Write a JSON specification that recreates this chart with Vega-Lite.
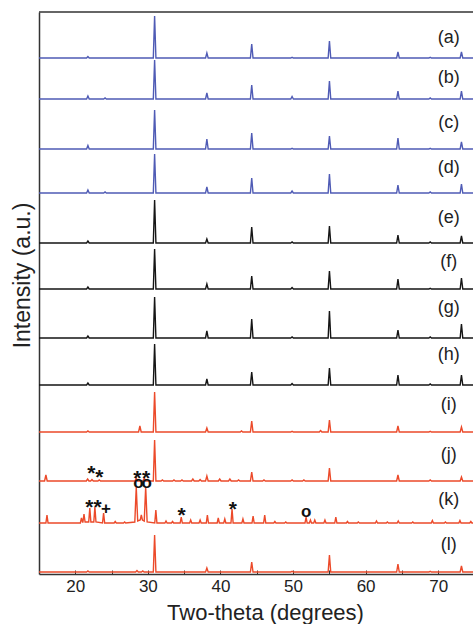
{
"$schema": "https://vega.github.io/schema/vega-lite/v6.json",
"width": 434, "height": 562,
"autosize": {"type": "none"},
"padding": {"left": 39, "top": 12, "right": 0, "bottom": 50},
"background": "white",
"config": {"view": {"stroke": null}, "font": "Liberation Sans"},
"datasets": {
"pts": [
{"s":"a","x":15,"y":516},{"s":"a","x":21.56,"y":516},{"s":"a","x":21.74,"y":517.5},{"s":"a","x":21.92,"y":516},{"s":"a","x":30.75,"y":516},{"s":"a","x":30.93,"y":558},{"s":"a","x":31.11,"y":516},{"s":"a","x":37.95,"y":516},{"s":"a","x":38.13,"y":521},{"s":"a","x":38.31,"y":516},{"s":"a","x":44.13,"y":516},{"s":"a","x":44.31,"y":530},{"s":"a","x":44.49,"y":516},{"s":"a","x":49.69,"y":516},{"s":"a","x":49.87,"y":516.7},{"s":"a","x":50.05,"y":516},{"s":"a","x":54.84,"y":516},{"s":"a","x":55.02,"y":533},{"s":"a","x":55.2,"y":516},{"s":"a","x":64.28,"y":516},{"s":"a","x":64.46,"y":522},{"s":"a","x":64.64,"y":516},{"s":"a","x":68.72,"y":516},{"s":"a","x":68.9,"y":516.7},{"s":"a","x":69.08,"y":516},{"s":"a","x":73.03,"y":516},{"s":"a","x":73.21,"y":522},{"s":"a","x":73.39,"y":516},{"s":"a","x":74.8,"y":516},
{"s":"b","x":15,"y":475},{"s":"b","x":21.56,"y":475},{"s":"b","x":21.74,"y":478},{"s":"b","x":21.92,"y":475},{"s":"b","x":23.92,"y":475},{"s":"b","x":24.1,"y":476},{"s":"b","x":24.28,"y":475},{"s":"b","x":30.75,"y":475},{"s":"b","x":30.93,"y":514},{"s":"b","x":31.11,"y":475},{"s":"b","x":37.95,"y":475},{"s":"b","x":38.13,"y":481},{"s":"b","x":38.31,"y":475},{"s":"b","x":44.13,"y":475},{"s":"b","x":44.31,"y":489},{"s":"b","x":44.49,"y":475},{"s":"b","x":49.69,"y":475},{"s":"b","x":49.87,"y":477.5},{"s":"b","x":50.05,"y":475},{"s":"b","x":54.84,"y":475},{"s":"b","x":55.02,"y":493},{"s":"b","x":55.2,"y":475},{"s":"b","x":64.28,"y":475},{"s":"b","x":64.46,"y":483},{"s":"b","x":64.64,"y":475},{"s":"b","x":68.72,"y":475},{"s":"b","x":68.9,"y":476},{"s":"b","x":69.08,"y":475},{"s":"b","x":73.03,"y":475},{"s":"b","x":73.21,"y":483},{"s":"b","x":73.39,"y":475},{"s":"b","x":74.8,"y":475},
{"s":"c","x":15,"y":425},{"s":"c","x":21.56,"y":425},{"s":"c","x":21.74,"y":428.5},{"s":"c","x":21.92,"y":425},{"s":"c","x":30.75,"y":425},{"s":"c","x":30.93,"y":464},{"s":"c","x":31.11,"y":425},{"s":"c","x":37.95,"y":425},{"s":"c","x":38.13,"y":435},{"s":"c","x":38.31,"y":425},{"s":"c","x":44.13,"y":425},{"s":"c","x":44.31,"y":441},{"s":"c","x":44.49,"y":425},{"s":"c","x":49.69,"y":425},{"s":"c","x":49.87,"y":425.7},{"s":"c","x":50.05,"y":425},{"s":"c","x":54.84,"y":425},{"s":"c","x":55.02,"y":438},{"s":"c","x":55.2,"y":425},{"s":"c","x":64.28,"y":425},{"s":"c","x":64.46,"y":436},{"s":"c","x":64.64,"y":425},{"s":"c","x":68.72,"y":425},{"s":"c","x":68.9,"y":425.7},{"s":"c","x":69.08,"y":425},{"s":"c","x":73.03,"y":425},{"s":"c","x":73.21,"y":432},{"s":"c","x":73.39,"y":425},{"s":"c","x":74.8,"y":425},
{"s":"d","x":15,"y":381},{"s":"d","x":21.56,"y":381},{"s":"d","x":21.74,"y":384},{"s":"d","x":21.92,"y":381},{"s":"d","x":23.92,"y":381},{"s":"d","x":24.1,"y":382},{"s":"d","x":24.28,"y":381},{"s":"d","x":30.75,"y":381},{"s":"d","x":30.93,"y":420},{"s":"d","x":31.11,"y":381},{"s":"d","x":37.95,"y":381},{"s":"d","x":38.13,"y":387},{"s":"d","x":38.31,"y":381},{"s":"d","x":44.13,"y":381},{"s":"d","x":44.31,"y":396},{"s":"d","x":44.49,"y":381},{"s":"d","x":49.69,"y":381},{"s":"d","x":49.87,"y":383},{"s":"d","x":50.05,"y":381},{"s":"d","x":54.84,"y":381},{"s":"d","x":55.02,"y":400},{"s":"d","x":55.2,"y":381},{"s":"d","x":64.28,"y":381},{"s":"d","x":64.46,"y":389},{"s":"d","x":64.64,"y":381},{"s":"d","x":68.72,"y":381},{"s":"d","x":68.9,"y":382},{"s":"d","x":69.08,"y":381},{"s":"d","x":73.03,"y":381},{"s":"d","x":73.21,"y":390},{"s":"d","x":73.39,"y":381},{"s":"d","x":74.8,"y":381},
{"s":"e","x":15,"y":331},{"s":"e","x":21.56,"y":331},{"s":"e","x":21.74,"y":333},{"s":"e","x":21.92,"y":331},{"s":"e","x":30.75,"y":331},{"s":"e","x":30.93,"y":374},{"s":"e","x":31.11,"y":331},{"s":"e","x":37.95,"y":331},{"s":"e","x":38.13,"y":335},{"s":"e","x":38.31,"y":331},{"s":"e","x":44.13,"y":331},{"s":"e","x":44.31,"y":347},{"s":"e","x":44.49,"y":331},{"s":"e","x":49.69,"y":331},{"s":"e","x":49.87,"y":332},{"s":"e","x":50.05,"y":331},{"s":"e","x":54.84,"y":331},{"s":"e","x":55.02,"y":348},{"s":"e","x":55.2,"y":331},{"s":"e","x":64.28,"y":331},{"s":"e","x":64.46,"y":339},{"s":"e","x":64.64,"y":331},{"s":"e","x":68.72,"y":331},{"s":"e","x":68.9,"y":332},{"s":"e","x":69.08,"y":331},{"s":"e","x":73.03,"y":331},{"s":"e","x":73.21,"y":338},{"s":"e","x":73.39,"y":331},{"s":"e","x":74.8,"y":331},
{"s":"f","x":15,"y":285},{"s":"f","x":21.56,"y":285},{"s":"f","x":21.74,"y":287},{"s":"f","x":21.92,"y":285},{"s":"f","x":30.75,"y":285},{"s":"f","x":30.93,"y":325},{"s":"f","x":31.11,"y":285},{"s":"f","x":37.95,"y":285},{"s":"f","x":38.13,"y":290},{"s":"f","x":38.31,"y":285},{"s":"f","x":44.13,"y":285},{"s":"f","x":44.31,"y":298},{"s":"f","x":44.49,"y":285},{"s":"f","x":49.69,"y":285},{"s":"f","x":49.87,"y":286.5},{"s":"f","x":50.05,"y":285},{"s":"f","x":54.84,"y":285},{"s":"f","x":55.02,"y":303},{"s":"f","x":55.2,"y":285},{"s":"f","x":64.28,"y":285},{"s":"f","x":64.46,"y":295},{"s":"f","x":64.64,"y":285},{"s":"f","x":68.72,"y":285},{"s":"f","x":68.9,"y":285.7},{"s":"f","x":69.08,"y":285},{"s":"f","x":73.03,"y":285},{"s":"f","x":73.21,"y":296},{"s":"f","x":73.39,"y":285},{"s":"f","x":74.8,"y":285},
{"s":"g","x":15,"y":236},{"s":"g","x":21.56,"y":236},{"s":"g","x":21.74,"y":238},{"s":"g","x":21.92,"y":236},{"s":"g","x":30.75,"y":236},{"s":"g","x":30.93,"y":277},{"s":"g","x":31.11,"y":236},{"s":"g","x":37.95,"y":236},{"s":"g","x":38.13,"y":243},{"s":"g","x":38.31,"y":236},{"s":"g","x":44.13,"y":236},{"s":"g","x":44.31,"y":255},{"s":"g","x":44.49,"y":236},{"s":"g","x":49.69,"y":236},{"s":"g","x":49.87,"y":237},{"s":"g","x":50.05,"y":236},{"s":"g","x":54.84,"y":236},{"s":"g","x":55.02,"y":263},{"s":"g","x":55.2,"y":236},{"s":"g","x":64.28,"y":236},{"s":"g","x":64.46,"y":244},{"s":"g","x":64.64,"y":236},{"s":"g","x":68.72,"y":236},{"s":"g","x":68.9,"y":237},{"s":"g","x":69.08,"y":236},{"s":"g","x":73.03,"y":236},{"s":"g","x":73.21,"y":250},{"s":"g","x":73.39,"y":236},{"s":"g","x":74.8,"y":236},
{"s":"h","x":15,"y":189},{"s":"h","x":21.56,"y":189},{"s":"h","x":21.74,"y":191},{"s":"h","x":21.92,"y":189},{"s":"h","x":30.75,"y":189},{"s":"h","x":30.93,"y":230},{"s":"h","x":31.11,"y":189},{"s":"h","x":37.95,"y":189},{"s":"h","x":38.13,"y":195},{"s":"h","x":38.31,"y":189},{"s":"h","x":44.13,"y":189},{"s":"h","x":44.31,"y":202},{"s":"h","x":44.49,"y":189},{"s":"h","x":49.69,"y":189},{"s":"h","x":49.87,"y":190.5},{"s":"h","x":50.05,"y":189},{"s":"h","x":54.84,"y":189},{"s":"h","x":55.02,"y":206},{"s":"h","x":55.2,"y":189},{"s":"h","x":64.28,"y":189},{"s":"h","x":64.46,"y":199},{"s":"h","x":64.64,"y":189},{"s":"h","x":68.72,"y":189},{"s":"h","x":68.9,"y":190},{"s":"h","x":69.08,"y":189},{"s":"h","x":73.03,"y":189},{"s":"h","x":73.21,"y":199},{"s":"h","x":73.39,"y":189},{"s":"h","x":74.8,"y":189},
{"s":"i","x":15,"y":142},{"s":"i","x":21.56,"y":142},{"s":"i","x":21.74,"y":143},{"s":"i","x":21.92,"y":142},{"s":"i","x":28.72,"y":142},{"s":"i","x":28.9,"y":148},{"s":"i","x":29.08,"y":142},{"s":"i","x":30.75,"y":142},{"s":"i","x":30.93,"y":182},{"s":"i","x":31.11,"y":142},{"s":"i","x":37.95,"y":142},{"s":"i","x":38.13,"y":146},{"s":"i","x":38.31,"y":142},{"s":"i","x":42.72,"y":142},{"s":"i","x":42.9,"y":143},{"s":"i","x":43.08,"y":142},{"s":"i","x":44.13,"y":142},{"s":"i","x":44.31,"y":153},{"s":"i","x":44.49,"y":142},{"s":"i","x":49.69,"y":142},{"s":"i","x":49.87,"y":142.7},{"s":"i","x":50.05,"y":142},{"s":"i","x":53.62,"y":142},{"s":"i","x":53.8,"y":143.5},{"s":"i","x":53.98,"y":142},{"s":"i","x":54.84,"y":142},{"s":"i","x":55.02,"y":154},{"s":"i","x":55.2,"y":142},{"s":"i","x":64.28,"y":142},{"s":"i","x":64.46,"y":148},{"s":"i","x":64.64,"y":142},{"s":"i","x":68.72,"y":142},{"s":"i","x":68.9,"y":142.7},{"s":"i","x":69.08,"y":142},{"s":"i","x":73.03,"y":142},{"s":"i","x":73.21,"y":147},{"s":"i","x":73.39,"y":142},{"s":"i","x":74.8,"y":142},
{"s":"j","x":15,"y":93},{"s":"j","x":15.77,"y":93},{"s":"j","x":15.95,"y":99},{"s":"j","x":16.13,"y":93},{"s":"j","x":21.52,"y":93},{"s":"j","x":21.7,"y":95},{"s":"j","x":21.88,"y":93},{"s":"j","x":22.12,"y":93},{"s":"j","x":22.3,"y":94.5},{"s":"j","x":22.48,"y":93},{"s":"j","x":23.12,"y":93},{"s":"j","x":23.3,"y":94},{"s":"j","x":23.48,"y":93},{"s":"j","x":28.22,"y":93},{"s":"j","x":28.4,"y":96},{"s":"j","x":28.58,"y":93},{"s":"j","x":29.32,"y":93},{"s":"j","x":29.5,"y":96},{"s":"j","x":29.68,"y":93},{"s":"j","x":30.75,"y":93},{"s":"j","x":30.93,"y":134},{"s":"j","x":31.11,"y":93},{"s":"j","x":31.82,"y":93},{"s":"j","x":32,"y":94},{"s":"j","x":32.18,"y":93},{"s":"j","x":33.42,"y":93},{"s":"j","x":33.6,"y":94},{"s":"j","x":33.78,"y":93},{"s":"j","x":34.52,"y":93},{"s":"j","x":34.7,"y":94},{"s":"j","x":34.88,"y":93},{"s":"j","x":36.02,"y":93},{"s":"j","x":36.2,"y":95},{"s":"j","x":36.38,"y":93},{"s":"j","x":37.02,"y":93},{"s":"j","x":37.2,"y":94.5},{"s":"j","x":37.38,"y":93},{"s":"j","x":37.95,"y":93},{"s":"j","x":38.13,"y":98},{"s":"j","x":38.31,"y":93},{"s":"j","x":39.72,"y":93},{"s":"j","x":39.9,"y":95},{"s":"j","x":40.08,"y":93},{"s":"j","x":41.12,"y":93},{"s":"j","x":41.3,"y":95},{"s":"j","x":41.48,"y":93},{"s":"j","x":42.32,"y":93},{"s":"j","x":42.5,"y":94},{"s":"j","x":42.68,"y":93},{"s":"j","x":44.13,"y":93},{"s":"j","x":44.31,"y":102},{"s":"j","x":44.49,"y":93},{"s":"j","x":45.82,"y":93},{"s":"j","x":46,"y":94},{"s":"j","x":46.18,"y":93},{"s":"j","x":49.69,"y":93},{"s":"j","x":49.87,"y":94},{"s":"j","x":50.05,"y":93},{"s":"j","x":51.32,"y":93},{"s":"j","x":51.5,"y":94},{"s":"j","x":51.68,"y":93},{"s":"j","x":54.84,"y":93},{"s":"j","x":55.02,"y":106},{"s":"j","x":55.2,"y":93},{"s":"j","x":64.28,"y":93},{"s":"j","x":64.46,"y":99},{"s":"j","x":64.64,"y":93},{"s":"j","x":68.72,"y":93},{"s":"j","x":68.9,"y":94},{"s":"j","x":69.08,"y":93},{"s":"j","x":73.03,"y":93},{"s":"j","x":73.21,"y":97},{"s":"j","x":73.39,"y":93},{"s":"j","x":74.8,"y":93},
{"s":"k","x":15,"y":51},{"s":"k","x":15.95,"y":51},{"s":"k","x":16.1,"y":59},{"s":"k","x":16.25,"y":51},{"s":"k","x":20.7,"y":51},{"s":"k","x":20.85,"y":56},{"s":"k","x":21,"y":52},{"s":"k","x":21.05,"y":52},{"s":"k","x":21.2,"y":60},{"s":"k","x":21.35,"y":52},{"s":"k","x":21.85,"y":52},{"s":"k","x":22,"y":66},{"s":"k","x":22.15,"y":52},{"s":"k","x":22.55,"y":52},{"s":"k","x":22.7,"y":67},{"s":"k","x":22.85,"y":52},{"s":"k","x":23.75,"y":51},{"s":"k","x":23.9,"y":61},{"s":"k","x":24.05,"y":51},{"s":"k","x":25.35,"y":51},{"s":"k","x":25.5,"y":52.5},{"s":"k","x":25.65,"y":51},{"s":"k","x":26.65,"y":51},{"s":"k","x":26.8,"y":52},{"s":"k","x":26.95,"y":51},{"s":"k","x":28.2,"y":52},{"s":"k","x":28.4,"y":87},{"s":"k","x":28.6,"y":53},{"s":"k","x":28.95,"y":54},{"s":"k","x":29.1,"y":59},{"s":"k","x":29.25,"y":54},{"s":"k","x":29.5,"y":53},{"s":"k","x":29.7,"y":87},{"s":"k","x":29.9,"y":52},{"s":"k","x":30.95,"y":51},{"s":"k","x":31.1,"y":64},{"s":"k","x":31.25,"y":51},{"s":"k","x":32.35,"y":51},{"s":"k","x":32.5,"y":53},{"s":"k","x":32.65,"y":51},{"s":"k","x":33.25,"y":51},{"s":"k","x":33.4,"y":52.5},{"s":"k","x":33.55,"y":51},{"s":"k","x":34.45,"y":51},{"s":"k","x":34.6,"y":57},{"s":"k","x":34.75,"y":51},{"s":"k","x":35.75,"y":51},{"s":"k","x":35.9,"y":54},{"s":"k","x":36.05,"y":51},{"s":"k","x":37.05,"y":51},{"s":"k","x":37.2,"y":54},{"s":"k","x":37.35,"y":51},{"s":"k","x":38.05,"y":51},{"s":"k","x":38.2,"y":59},{"s":"k","x":38.35,"y":51},{"s":"k","x":39.55,"y":51},{"s":"k","x":39.7,"y":56},{"s":"k","x":39.85,"y":51},{"s":"k","x":40.45,"y":51},{"s":"k","x":40.6,"y":55},{"s":"k","x":40.75,"y":51},{"s":"k","x":41.45,"y":51},{"s":"k","x":41.6,"y":65},{"s":"k","x":41.75,"y":51},{"s":"k","x":42.95,"y":51},{"s":"k","x":43.1,"y":55},{"s":"k","x":43.25,"y":51},{"s":"k","x":44.35,"y":51},{"s":"k","x":44.5,"y":58},{"s":"k","x":44.65,"y":51},{"s":"k","x":45.95,"y":51},{"s":"k","x":46.1,"y":59},{"s":"k","x":46.25,"y":51},{"s":"k","x":47.35,"y":51},{"s":"k","x":47.5,"y":52.5},{"s":"k","x":47.65,"y":51},{"s":"k","x":48.85,"y":51},{"s":"k","x":49,"y":52},{"s":"k","x":49.15,"y":51},{"s":"k","x":51.65,"y":51},{"s":"k","x":51.8,"y":57},{"s":"k","x":51.95,"y":51},{"s":"k","x":52.25,"y":51},{"s":"k","x":52.4,"y":54},{"s":"k","x":52.55,"y":51},{"s":"k","x":52.85,"y":51},{"s":"k","x":53,"y":54},{"s":"k","x":53.15,"y":51},{"s":"k","x":54.25,"y":51},{"s":"k","x":54.4,"y":54},{"s":"k","x":54.55,"y":51},{"s":"k","x":55.75,"y":51},{"s":"k","x":55.9,"y":57},{"s":"k","x":56.05,"y":51},{"s":"k","x":57.35,"y":51},{"s":"k","x":57.5,"y":52.5},{"s":"k","x":57.65,"y":51},{"s":"k","x":58.85,"y":51},{"s":"k","x":59,"y":52},{"s":"k","x":59.15,"y":51},{"s":"k","x":61.35,"y":51},{"s":"k","x":61.5,"y":53},{"s":"k","x":61.65,"y":51},{"s":"k","x":62.85,"y":51},{"s":"k","x":63,"y":52},{"s":"k","x":63.15,"y":51},{"s":"k","x":64.35,"y":51},{"s":"k","x":64.5,"y":53},{"s":"k","x":64.65,"y":51},{"s":"k","x":66.35,"y":51},{"s":"k","x":66.5,"y":52},{"s":"k","x":66.65,"y":51},{"s":"k","x":69.05,"y":51},{"s":"k","x":69.2,"y":53.5},{"s":"k","x":69.35,"y":51},{"s":"k","x":70.85,"y":51},{"s":"k","x":71,"y":52},{"s":"k","x":71.15,"y":51},{"s":"k","x":72.85,"y":51},{"s":"k","x":73,"y":53.5},{"s":"k","x":73.15,"y":51},{"s":"k","x":74.35,"y":51},{"s":"k","x":74.5,"y":52.5},{"s":"k","x":74.65,"y":51},{"s":"k","x":74.8,"y":51},
{"s":"l","x":15,"y":2},{"s":"l","x":21.56,"y":2},{"s":"l","x":21.74,"y":3},{"s":"l","x":21.92,"y":2},{"s":"l","x":28.32,"y":2},{"s":"l","x":28.5,"y":3.5},{"s":"l","x":28.68,"y":2},{"s":"l","x":29.12,"y":2},{"s":"l","x":29.3,"y":3},{"s":"l","x":29.48,"y":2},{"s":"l","x":30.75,"y":2},{"s":"l","x":30.93,"y":39},{"s":"l","x":31.11,"y":2},{"s":"l","x":37.95,"y":2},{"s":"l","x":38.13,"y":6},{"s":"l","x":38.31,"y":2},{"s":"l","x":44.13,"y":2},{"s":"l","x":44.31,"y":12},{"s":"l","x":44.49,"y":2},{"s":"l","x":49.69,"y":2},{"s":"l","x":49.87,"y":2.7},{"s":"l","x":50.05,"y":2},{"s":"l","x":54.84,"y":2},{"s":"l","x":55.02,"y":19},{"s":"l","x":55.2,"y":2},{"s":"l","x":64.28,"y":2},{"s":"l","x":64.46,"y":10},{"s":"l","x":64.64,"y":2},{"s":"l","x":68.72,"y":2},{"s":"l","x":68.9,"y":2.7},{"s":"l","x":69.08,"y":2},{"s":"l","x":73.03,"y":2},{"s":"l","x":73.21,"y":8},{"s":"l","x":73.39,"y":2},{"s":"l","x":74.8,"y":2}
],
"lab": [
{"s":"a","x":71.45,"y":536,"t":"(a)"},{"s":"b","x":71.45,"y":496,"t":"(b)"},{"s":"c","x":71.45,"y":451,"t":"(c)"},{"s":"d","x":71.45,"y":406,"t":"(d)"},{"s":"e","x":71.45,"y":356,"t":"(e)"},{"s":"f","x":71.45,"y":312,"t":"(f)"},{"s":"g","x":71.45,"y":266,"t":"(g)"},{"s":"h","x":71.45,"y":219,"t":"(h)"},{"s":"i","x":71.45,"y":169,"t":"(i)"},{"s":"j","x":71.45,"y":119,"t":"(j)"},{"s":"k","x":71.45,"y":74,"t":"(k)"},{"s":"l","x":71.45,"y":29,"t":"(l)"}
],
"ann": [
{"x":22.2,"y":106,"t":"*"},{"x":23.3,"y":102,"t":"*"},{"x":28.55,"y":101,"t":"*"},{"x":29.75,"y":101,"t":"*"},{"x":28.7,"y":91,"t":"o"},{"x":29.84,"y":91,"t":"o"},
{"x":21.93,"y":72,"t":"*"},{"x":23.09,"y":72,"t":"*"},{"x":24.24,"y":65,"t":"+"},{"x":34.66,"y":64,"t":"*"},{"x":41.7,"y":70,"t":"*"},{"x":51.8,"y":62,"t":"o"}
]
},
"layer": [
{
"data": {"name": "pts"},
"mark": {"type": "line", "strokeWidth": 1.4},
"encoding": {
"x": {"field": "x", "type": "quantitative", "scale": {"domain": [15, 74.8], "nice": false, "zero": false},
"axis": {"title": "Two-theta (degrees)", "values": [20,25,30,35,40,45,50,55,60,65,70], "labelExpr": "datum.value % 10 === 0 ? datum.label : ''", "labelOverlap": false, "labelFlush": false, "grid": false, "domain": true, "domainColor": "#333", "domainWidth": 1.5, "tickSize": -4, "tickColor": "#333", "tickWidth": 1, "labelPadding": 8, "labelFontSize": 17, "labelColor": "#222", "titleFontSize": 22, "titleFontWeight": "normal", "titleColor": "#222", "titleX": 226, "titleY": 45, "titleBaseline": "alphabetic"}},
"y": {"field": "y", "type": "quantitative", "scale": {"domain": [0, 562], "nice": false, "zero": false},
"axis": {"title": "Intensity (a.u.)", "labels": false, "ticks": false, "grid": false, "domain": true, "domainColor": "#333", "domainWidth": 1.5, "titleFontSize": 23, "titleFontWeight": "normal", "titleColor": "#222", "titleX": -10, "titleY": 263, "titleBaseline": "alphabetic", "titleAngle": 270}},
"color": {"field": "s", "type": "nominal", "legend": null, "scale": {"domain": ["a","b","c","d","e","f","g","h","i","j","k","l"], "range": ["#4f5bb5","#4f5bb5","#4f5bb5","#4f5bb5","#151515","#151515","#151515","#151515","#ec4a2a","#ec4a2a","#ec4a2a","#ec4a2a"]}}
}
},
{
"data": {"values": [{"y": 562}]},
"mark": {"type": "rule", "color": "#333", "strokeWidth": 1.5},
"encoding": {"y": {"field": "y", "type": "quantitative"}}
},
{
"data": {"name": "lab"},
"mark": {"type": "text", "fontSize": 18, "color": "#222", "align": "center", "baseline": "middle"},
"encoding": {
"x": {"field": "x", "type": "quantitative"},
"y": {"field": "y", "type": "quantitative"},
"text": {"field": "t"}
}
},
{
"data": {"name": "ann"},
"transform": [{"filter": "datum.t === '*'"}],
"mark": {"type": "text", "fontSize": 21, "fontWeight": "bold", "color": "#111", "align": "center", "baseline": "middle", "dy": 6},
"encoding": {
"x": {"field": "x", "type": "quantitative"},
"y": {"field": "y", "type": "quantitative"},
"text": {"field": "t"}
}
},
{
"data": {"name": "ann"},
"transform": [{"filter": "datum.t !== '*'"}],
"mark": {"type": "text", "fontSize": 17, "fontWeight": "bold", "color": "#111", "align": "center", "baseline": "middle"},
"encoding": {
"x": {"field": "x", "type": "quantitative"},
"y": {"field": "y", "type": "quantitative"},
"text": {"field": "t"}
}
}
]
}
